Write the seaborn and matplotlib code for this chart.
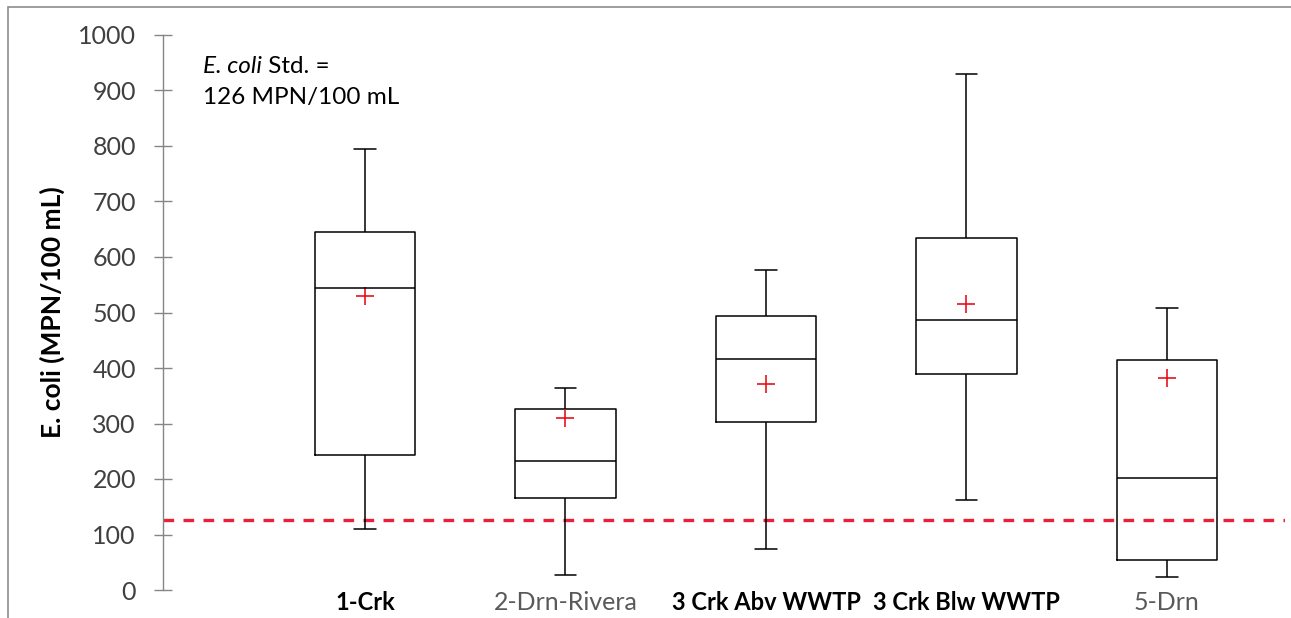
import numpy as np
import pandas as pd
import matplotlib
matplotlib.use("Agg")
import matplotlib.pyplot as plt
import seaborn as sns
from matplotlib.patches import Rectangle

# ---- data ----
sites = ["1-Crk", "2-Drn-Rivera", "3 Crk Abv WWTP", "3 Crk Blw WWTP", "5-Drn"]
mins = [110, 27, 74, 162, 23]
q1s = [243, 165, 302, 389, 54]
medians = [544, 232, 416, 486, 202]
q3s = [645, 326, 494, 634, 414]
maxs = [795, 364, 577, 930, 508]
means = [530, 310, 372, 515, 382]
std_value = 126
bold_sites = [True, False, True, True, False]
yticks = list(range(0, 1001, 100))

sns.set_theme(style="white")
plt.rcParams["font.family"] = ["Lato", "DejaVu Sans"]

W, H = 1291, 618
fig = plt.figure(figsize=(W / 100, H / 100), dpi=100)
ax = fig.add_axes([163 / W, 28 / H, 1122 / W, 555 / H])

rows = []
for s, a, b, c, d, e in zip(sites, mins, q1s, medians, q3s, maxs):
    for v in (a, b, c, d, e):
        rows.append({"site": s, "value": v})
df = pd.DataFrame(rows)

sns.boxplot(data=df, x="site", y="value", order=sites, whis=(0, 100),
            width=0.5, fill=False, color="black", linewidth=1.1,
            showfliers=False, ax=ax)

# narrow the whisker caps like the reference
for ln in ax.lines:
    x = np.asarray(ln.get_xdata(), float)
    y = np.asarray(ln.get_ydata(), float)
    if len(x) == 2 and y[0] == y[1] and 0 < abs(x[1] - x[0]) < 0.45:
        c = x.mean()
        ln.set_xdata([c - 0.053, c + 0.053])

mean_df = pd.DataFrame({"site": sites, "mean": means})
sns.pointplot(data=mean_df, x="site", y="mean", order=sites, errorbar=None,
              linestyle="none", marker="+", markersize=13,
              markeredgewidth=1.2, color="#E8101E", ax=ax)

ax.axhline(std_value, color="#E8203A", lw=2.4, dashes=(3.2, 2.8), zorder=1)

ax.set_ylim(0, 1000)
ax.set_xlim(-1.0075, 4.589)
ax.set_yticks(yticks)
ax.set_yticklabels([str(t) for t in yticks])

for sp in ("top", "right", "bottom"):
    ax.spines[sp].set_visible(False)
ax.spines["left"].set_color("#868686")
ax.spines["left"].set_linewidth(1)

ax.tick_params(axis="y", direction="inout", length=13, width=1,
               color="#868686", labelsize=18, labelcolor="#404040", pad=13,
               left=True)
ax.tick_params(axis="x", length=0, labelsize=18, pad=1)

ax.set_xlabel("")
ax.set_ylabel("E. coli (MPN/100 mL)", fontsize=19, fontweight="bold",
              color="black")
ax.yaxis.set_label_coords(-0.0875, 0.5)

for lbl, b in zip(ax.get_xticklabels(), bold_sites):
    if b:
        lbl.set_fontweight("bold")
        lbl.set_fontsize(17)
        lbl.set_color("black")
    else:
        lbl.set_color("#595959")

fs_note = 17.5
t1 = ax.text(0.0357, 0.944, "E. coli", transform=ax.transAxes,
             fontsize=fs_note, style="italic", va="center", ha="left",
             color="black")
ax.annotate(" Std. =", xy=(1, 0), xycoords=t1, va="bottom", ha="left",
            fontsize=fs_note, color="black")
ax.text(0.0357, 0.888, "126 MPN/100 mL", transform=ax.transAxes,
        fontsize=fs_note, va="center", ha="left", color="black")

# outer chart frame (top and left edges visible in the reference)
fig.add_artist(Rectangle((8 / W, -0.5), 2.0, (H - 6.5) / H + 0.5,
                         transform=fig.transFigure, fill=False,
                         edgecolor="#8c8c8c", lw=1.2, clip_on=False))

fig.savefig("out.png", dpi=100)
